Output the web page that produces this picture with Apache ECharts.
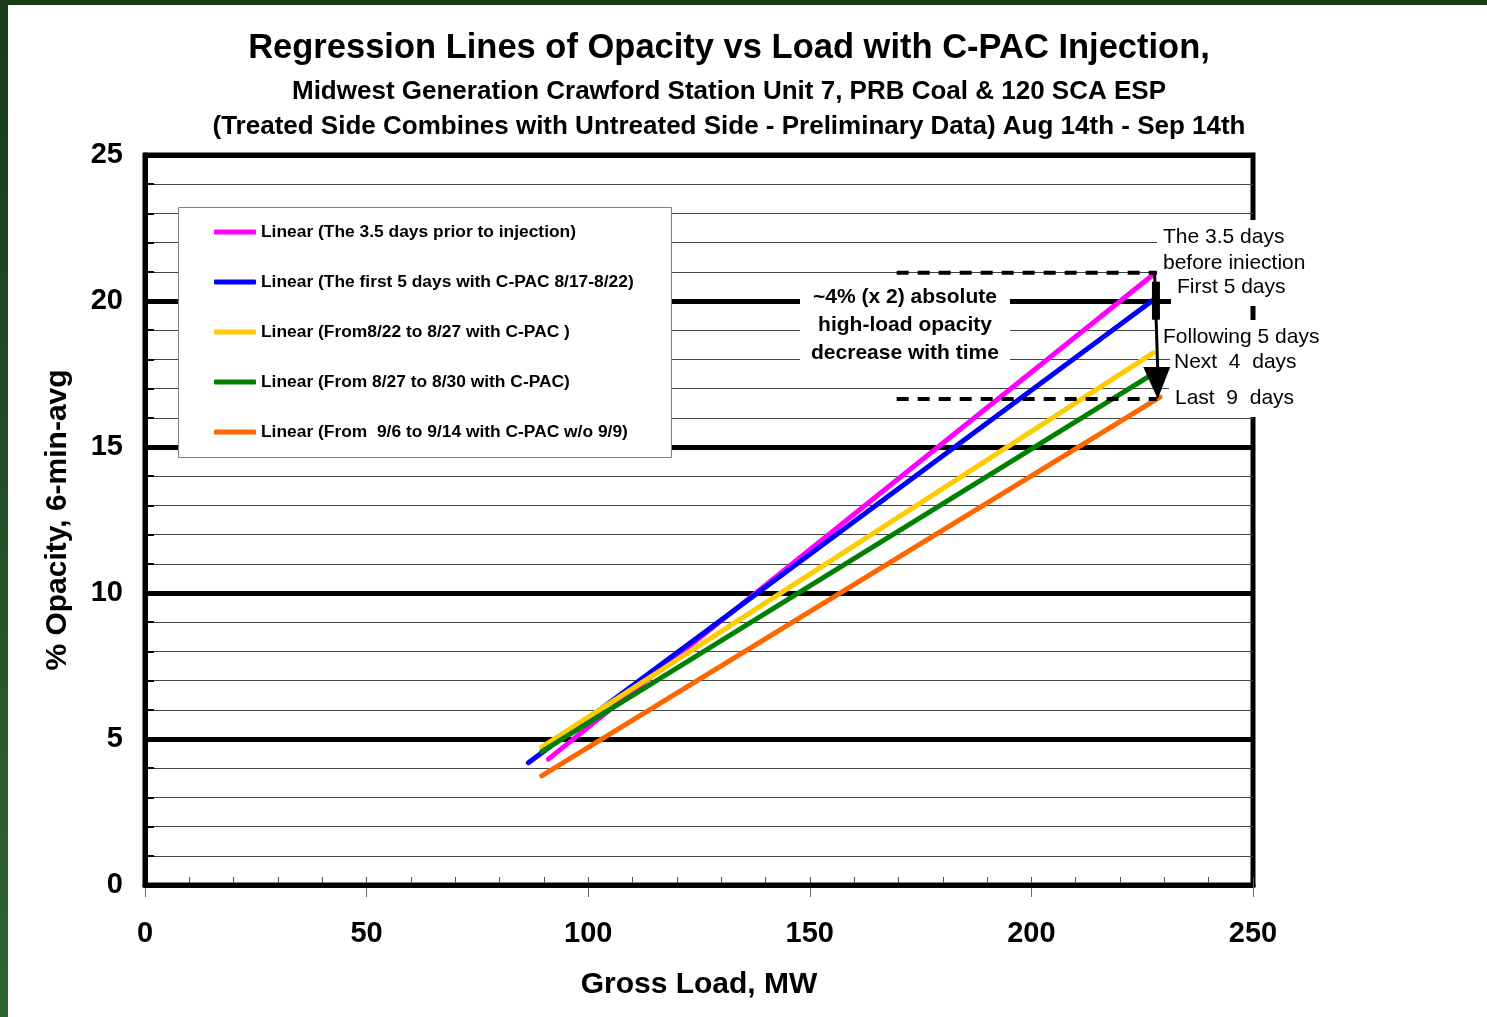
<!DOCTYPE html>
<html>
<head>
<meta charset="utf-8">
<script src="https://cdn.jsdelivr.net/npm/echarts@6/dist/echarts.min.js"></script>
<style>
  html, body { margin: 0; padding: 0; background: #ffffff; }
  #chart { width: 1487px; height: 1017px; }
</style>
</head>
<body>
<div id="chart"></div>
<script>
// ---- Data ----------------------------------------------------------------
const seriesNames = [
  'Linear (The 3.5 days prior to injection)',
  'Linear (The first 5 days with C-PAC 8/17-8/22)',
  'Linear (From8/22 to 8/27 with C-PAC )',
  'Linear (From 8/27 to 8/30 with C-PAC)',
  'Linear (From  9/6 to 9/14 with C-PAC w/o 9/9)'
];
const seriesColors = ['#FF00FF', '#0000FF', '#FFCC00', '#008000', '#FF6600'];

// Regression line end points (gross load MW, % opacity)
const loadStart    = [91.0, 86.5, 89.5, 89.5, 89.5];
const opacityStart = [4.31, 4.19, 4.72, 4.57, 3.74];
const loadEnd      = [227.8, 227.8, 227.5, 227.8, 229.0];
const opacityEnd   = [20.94, 20.07, 18.22, 17.54, 16.71];

// Axis ranges and tick steps
const xRange = [0, 250];
const xMajorStep = 50;
const xMinorStep = 10;
const yRange = [0, 25];
const yMajorStep = 5;
const yMinorStep = 1;

// Reference levels bracketing the high-load decrease
const refLoad = [169.6, 228.3];
const refHighOpacity = 20.97;
const refLowOpacity = 16.64;

// Arrow from the high level down to the low level
const arrowLoad = [227.8, 228.5];
const arrowOpacity = [20.97, 16.64];
const arrowBarOpacity = [20.66, 19.36];

const titleLines = [
  'Regression Lines of Opacity vs Load with C-PAC Injection,',
  'Midwest Generation Crawford Station Unit 7, PRB Coal & 120 SCA ESP',
  '(Treated Side Combines with Untreated Side - Preliminary Data) Aug 14th - Sep 14th'
];
const centerNote = ['~4% (x 2) absolute', 'high-load opacity', 'decrease with time'];
const sideNotes = ['The 3.5 days', 'before iniection', 'First 5 days',
                   'Following 5 days', 'Next  4  days', 'Last  9  days'];

// ---- Chart ---------------------------------------------------------------
const FONT = '"Liberation Sans", Arial, Helvetica, sans-serif';
const chart = echarts.init(document.getElementById('chart'), null, { renderer: 'canvas' });

const lineSeries = seriesNames.map((name, i) => ({
  type: 'line',
  name: name,
  data: [[loadStart[i], opacityStart[i]], [loadEnd[i], opacityEnd[i]]],
  symbol: 'none',
  showSymbol: false,
  silent: true,
  z: 3,
  color: seriesColors[i],
  lineStyle: { color: seriesColors[i], width: 5, cap: 'round' },
  itemStyle: { color: seriesColors[i] }
}));

const dashedSeries = [refHighOpacity, refLowOpacity].map(level => ({
  type: 'line',
  data: [[refLoad[0], level], [refLoad[1], level]],
  symbol: 'none',
  silent: true,
  z: 4,
  lineStyle: { color: '#000000', width: 4, type: [12, 9] }
}));

const tickLabelStyle = { fontFamily: FONT, fontWeight: 'bold', fontSize: 29, color: '#000000' };
const axisNameStyle = { fontFamily: FONT, fontWeight: 'bold', fontSize: 30, color: '#000000' };

chart.setOption({
  animation: false,
  backgroundColor: '#ffffff',
  grid: {
    left: 145, right: 234, top: 155, bottom: 132,
    show: true, borderColor: '#000000', borderWidth: 5, backgroundColor: 'transparent'
  },
  legend: {
    data: seriesNames,
    orient: 'vertical',
    left: 214, top: 222,
    padding: 0,
    itemWidth: 42, itemHeight: 5, itemGap: 30,
    icon: 'roundRect',
    selectedMode: false,
    z: 30,
    textStyle: { fontFamily: FONT, fontWeight: 'bold', fontSize: 17.4, lineHeight: 20, color: '#000000' }
  },
  xAxis: [
    {
      type: 'value', min: xRange[0], max: xRange[1], interval: xMajorStep, position: 'bottom',
      axisLine: { show: true, onZero: false, lineStyle: { color: '#000000', width: 5 } },
      axisTick: { show: true, length: 12, lineStyle: { color: '#666666', width: 1 } },
      axisLabel: Object.assign({ margin: 34 }, tickLabelStyle),
      splitLine: { show: false },
      name: 'Gross Load, MW', nameLocation: 'middle', nameGap: 85, nameTextStyle: axisNameStyle
    },
    {
      type: 'value', min: xRange[0], max: xRange[1], interval: xMinorStep, position: 'bottom',
      axisLine: { show: false, onZero: false },
      axisTick: { show: true, inside: true, length: 8, lineStyle: { color: '#555555', width: 1 } },
      axisLabel: { show: false },
      splitLine: { show: false }
    }
  ],
  yAxis: [
    {
      type: 'value', min: yRange[0], max: yRange[1], interval: yMajorStep, position: 'left', z: 2,
      axisLine: { show: true, onZero: false, lineStyle: { color: '#000000', width: 5 } },
      axisTick: { show: false },
      axisLabel: Object.assign({ margin: 22 }, tickLabelStyle),
      splitLine: { show: true, lineStyle: { color: '#000000', width: 5 } },
      name: '% Opacity, 6-min-avg', nameLocation: 'middle', nameGap: 72, nameRotate: 90,
      nameTextStyle: axisNameStyle
    },
    {
      type: 'value', min: yRange[0], max: yRange[1], interval: yMinorStep, position: 'left', z: 1,
      axisLine: { show: false, onZero: false },
      axisTick: { show: true, inside: true, length: 9, lineStyle: { color: '#000000', width: 2 } },
      axisLabel: { show: false },
      splitLine: { show: true, lineStyle: { color: '#444444', width: 1 } }
    }
  ],
  series: lineSeries.concat(dashedSeries)
});

// ---- Overlays: frame band, titles, legend box, notes, arrow ---------------
const px = (x, y) => chart.convertToPixel({ gridIndex: 0 }, [x, y]);

const arrowTop = px(arrowLoad[0], arrowOpacity[0]);
const arrowTip = px(arrowLoad[1], arrowOpacity[1]);
const headLen = 32, headHalf = 13.5;
const barTop = px(228.1, arrowBarOpacity[0]);
const barBottom = px(228.1, arrowBarOpacity[1]);

const whiteBox = (x, y, w, h, z) => ({
  type: 'rect', shape: { x: x, y: y, width: w, height: h }, z: z || 20, silent: true,
  style: { fill: '#ffffff' }
});
const noteText = (text, x, y, bold, align) => ({
  type: 'text', x: x, y: y, z: 21, silent: true,
  style: {
    text: text, fill: '#000000', fontFamily: FONT,
    fontSize: 21, fontWeight: bold ? 'bold' : 'normal',
    align: align || 'left', verticalAlign: 'middle'
  }
});
const titleText = (text, y, size) => ({
  type: 'text', x: 729, y: y, z: 21, silent: true,
  style: { text: text, fill: '#000000', fontFamily: FONT, fontWeight: 'bold', fontSize: size,
           align: 'center', verticalAlign: 'middle' }
});

const graphics = [
  // dark green page edge
  { type: 'rect', shape: { x: 0, y: 0, width: 1487, height: 5 }, z: 50, silent: true,
    style: { fill: '#173a17' } },
  { type: 'rect', shape: { x: 0, y: 0, width: 8, height: 1017 }, z: 50, silent: true,
    style: { fill: { type: 'linear', x: 0, y: 0, x2: 0, y2: 1,
      colorStops: [{ offset: 0, color: '#183a19' }, { offset: 1, color: '#2f6433' }] } } },

  // titles
  titleText(titleLines[0], 48, 34.5),
  titleText(titleLines[1], 92, 26),
  titleText(titleLines[2], 127, 26),

  // legend frame
  { type: 'rect', shape: { x: 178.5, y: 207.5, width: 493, height: 250 }, z: 20, silent: true,
    style: { fill: '#ffffff', stroke: '#808080', lineWidth: 1 } },

  // central note
  whiteBox(800, 283, 210, 84),
  noteText(centerNote[0], 905, 297, true, 'center'),
  noteText(centerNote[1], 905, 325, true, 'center'),
  noteText(centerNote[2], 905, 353, true, 'center'),

  // side notes
  whiteBox(1157, 220, 180, 58),
  whiteBox(1171, 278, 160, 28),
  whiteBox(1157, 320, 180, 28),
  whiteBox(1170, 348, 160, 28),
  whiteBox(1169, 376, 160, 41),
  noteText(sideNotes[0], 1163, 237),
  noteText(sideNotes[1], 1163, 263),
  noteText(sideNotes[2], 1177, 287),
  noteText(sideNotes[3], 1163, 337),
  noteText(sideNotes[4], 1174, 362),
  noteText(sideNotes[5], 1175, 398),

  // arrow
  { type: 'line', z: 22, silent: true,
    shape: { x1: arrowTop[0], y1: arrowTop[1], x2: arrowTip[0], y2: arrowTip[1] - headLen + 2 },
    style: { stroke: '#000000', lineWidth: 3 } },
  { type: 'line', z: 22, silent: true,
    shape: { x1: barTop[0], y1: barTop[1], x2: barBottom[0], y2: barBottom[1] },
    style: { stroke: '#000000', lineWidth: 8 } },
  { type: 'polygon', z: 22, silent: true,
    shape: { points: [[arrowTip[0] - headHalf - 1, arrowTip[1] - headLen],
                      [arrowTip[0] + headHalf - 1, arrowTip[1] - headLen],
                      [arrowTip[0], arrowTip[1]]] },
    style: { fill: '#000000' } }
];

chart.setOption({ graphic: graphics });
</script>
</body>
</html>
